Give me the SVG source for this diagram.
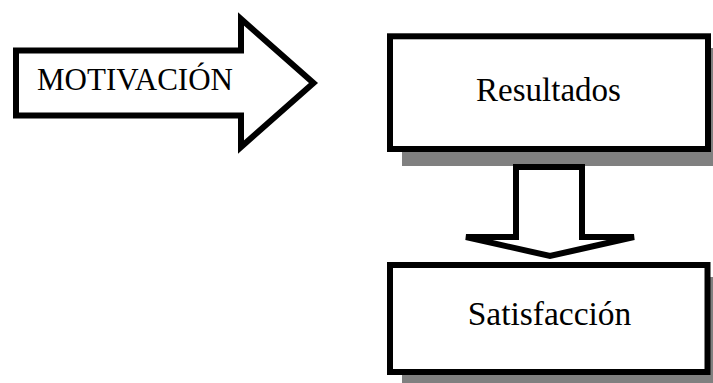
<svg xmlns="http://www.w3.org/2000/svg" width="713" height="383" viewBox="0 0 713 383">
<style>
.shape{fill:#ffffff;stroke:#000000;stroke-width:6;stroke-linejoin:miter}
.shadow{fill:#808080;stroke:none}
.lbl{font-family:"Liberation Serif","Times New Roman",serif;fill:#000000}
</style>
<rect width="713" height="383" fill="#ffffff"/>
<g id="motivacion">
<polygon class="shape" points="16,50.5 241,50.5 241,19 313.5,83 241,147 241,115.5 16,115.5"/>
<text class="lbl" x="37" y="90" font-size="31" textLength="196" lengthAdjust="spacingAndGlyphs">MOTIVACIÓN</text>
</g>
<g id="resultados">
<rect class="shadow" x="402" y="48" width="324" height="118"/>
<rect class="shape" x="390" y="36.3" width="318" height="112.7"/>
<text class="lbl" x="548.5" y="101" font-size="33" text-anchor="middle">Resultados</text>
</g>
<g id="connectors">
<polygon class="shape" points="516,167 582,167 582,237 634,237 550,256 466,237 516,237"/>
</g>
<g id="satisfaccion">
<rect class="shadow" x="402" y="277" width="324" height="113"/>
<rect class="shape" x="390" y="265" width="317.5" height="107"/>
<text class="lbl" x="549.5" y="325" font-size="33.5" text-anchor="middle">Satisfacción</text>
</g>
</svg>
